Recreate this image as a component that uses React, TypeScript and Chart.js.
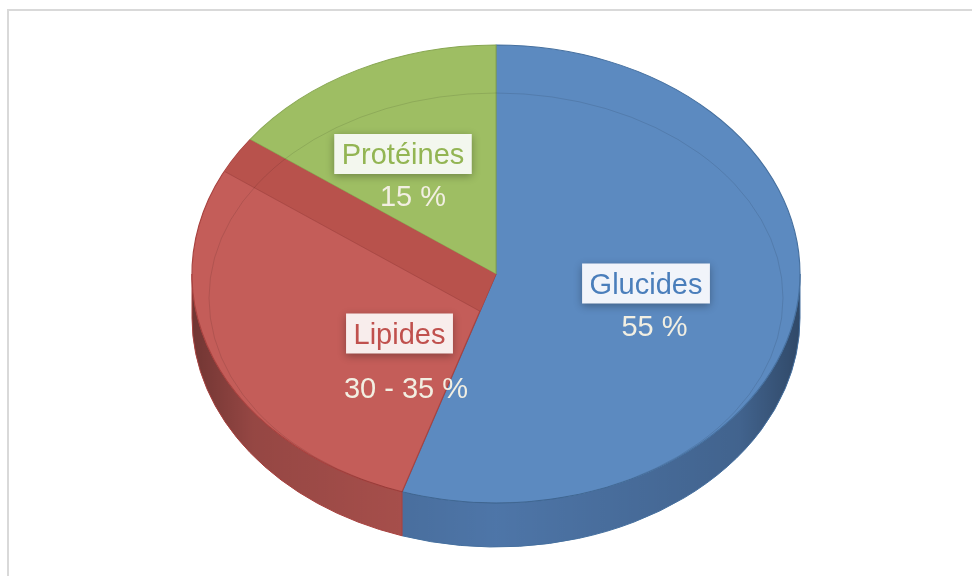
import React, { useEffect, useRef } from "react";
import { Chart, registerables } from "chart.js";

Chart.register(...registerables);

// Macronutrient shares of daily energy intake
const categories = ["Glucides", "Lipides", "Protéines"];
const shares = [55, 30, 15];
const shareLabels = ["55 %", "30 - 35 %", "15 %"];

// Styling
const faceColors = ["#5c8ac0", "#c45d59", "#9ebe63"];
const edgeColors = ["#46709f", "#a8423f", "#88a752"];
const wallColors = ["#5079ad", "#b65652", "#8fae56"];
const labelColors = ["#4a7ebb", "#c0504d", "#93b553"];
const labelBoxColors = ["#f1f4fa", "#f8edec", "#f3f7ee"];
const valueColor = "#f2efe2";
const bandColor = "#b8524c";

// Tilted-disc geometry (pixels)
const PIE_RX = 304;
const PIE_RY = 229;
const PIE_DEPTH = 44;
const FONT = '29px "Liberation Sans", Arial, sans-serif';
// Label anchors relative to the disc centre: [name dx, name dy, value dx, value dy]
const LABEL_OFFSETS = [
  [150, 9.5, 158.5, 52],
  [-96.5, 59.5, -90, 114],
  [-93, -120, -83, -78],
];

const pie3d = {
  id: "pie3d",
  beforeDatasetsDraw(chart: any) {
    const arcs = chart.getDatasetMeta(0).data as any[];
    if (!arcs.length) return;
    const ctx: CanvasRenderingContext2D = chart.ctx;
    const { x: cx, y: cy, outerRadius } = arcs[0].getProps(["x", "y", "outerRadius"], true);

    // darkening toward the left/right ends of the side wall
    const shade = ctx.createLinearGradient(cx - PIE_RX, 0, cx + PIE_RX, 0);
    shade.addColorStop(0, "rgba(0,0,0,0.38)");
    shade.addColorStop(0.1, "rgba(0,0,0,0.18)");
    shade.addColorStop(0.5, "rgba(0,0,0,0.03)");
    shade.addColorStop(0.9, "rgba(0,0,0,0.18)");
    shade.addColorStop(1, "rgba(0,0,0,0.4)");

    arcs.forEach((arc, i) => {
      const { startAngle, endAngle } = arc.getProps(["startAngle", "endAngle"], true);
      for (const k of [-2 * Math.PI, 0, 2 * Math.PI]) {
        const lo = Math.max(startAngle, k);
        const hi = Math.min(endAngle, Math.PI + k);
        if (hi <= lo) continue;
        ctx.save();
        ctx.beginPath();
        ctx.ellipse(cx, cy, PIE_RX, PIE_RY, 0, lo, hi);
        ctx.ellipse(cx, cy + PIE_DEPTH, PIE_RX, PIE_RY, 0, hi, lo, true);
        ctx.closePath();
        ctx.fillStyle = wallColors[i];
        ctx.fill();
        ctx.fillStyle = shade;
        ctx.fill();
        ctx.strokeStyle = edgeColors[i];
        ctx.lineWidth = 1;
        ctx.stroke();
        ctx.restore();
      }
    });

    // squash the library's circular arcs into the tilted ellipse
    ctx.save();
    ctx.translate(cx, cy);
    ctx.scale(PIE_RX / outerRadius, PIE_RY / outerRadius);
    ctx.translate(-cx, -cy);
  },
  afterDatasetsDraw(chart: any) {
    const arcs = chart.getDatasetMeta(0).data as any[];
    if (!arcs.length) return;
    const ctx: CanvasRenderingContext2D = chart.ctx;
    ctx.restore();
    const { x: cx, y: cy } = arcs[0].getProps(["x", "y"], true);

    // radial face of the Lipides slice along its border with Protéines
    const red = arcs[1].getProps(["startAngle", "endAngle"], true);
    const th = red.endAngle;
    const ex = cx + PIE_RX * 1.3 * Math.cos(th);
    const ey = cy + PIE_RY * 1.3 * Math.sin(th);
    const band = PIE_DEPTH + 2;
    ctx.save();
    ctx.beginPath();
    ctx.moveTo(cx, cy);
    ctx.ellipse(cx, cy, PIE_RX - 0.5, PIE_RY - 0.5, 0, red.startAngle, red.endAngle);
    ctx.closePath();
    ctx.clip();
    ctx.beginPath();
    ctx.moveTo(cx, cy);
    ctx.lineTo(ex, ey);
    ctx.lineTo(ex, ey + band);
    ctx.lineTo(cx, cy + band);
    ctx.closePath();
    ctx.fillStyle = bandColor;
    ctx.fill();
    ctx.beginPath();
    ctx.moveTo(cx, cy + band);
    ctx.lineTo(ex, ey + band);
    ctx.strokeStyle = "rgba(150,60,58,0.5)";
    ctx.lineWidth = 1;
    ctx.stroke();
    ctx.restore();

    // bevel rim line on the top face
    ctx.save();
    ctx.beginPath();
    ctx.ellipse(cx, cy + 24, PIE_RX - 17, PIE_RY - 24, 0, 0, Math.PI * 2);
    ctx.strokeStyle = "rgba(0,0,0,0.1)";
    ctx.lineWidth = 1;
    ctx.stroke();
    ctx.restore();
  },
  afterDraw(chart: any) {
    const arcs = chart.getDatasetMeta(0).data as any[];
    if (!arcs.length) return;
    const ctx: CanvasRenderingContext2D = chart.ctx;
    const { x: cx, y: cy } = arcs[0].getProps(["x", "y"], true);
    ctx.save();
    ctx.font = FONT;
    ctx.textAlign = "center";
    ctx.textBaseline = "alphabetic";
    categories.forEach((name, i) => {
      const [nx, ny, vx, vy] = LABEL_OFFSETS[i];
      const tx = cx + nx;
      const ty = cy + ny;
      const w = ctx.measureText(name).width + 15;
      const h = 40;
      ctx.save();
      ctx.shadowColor = "rgba(0,0,0,0.3)";
      ctx.shadowBlur = 8;
      ctx.shadowOffsetY = 2;
      ctx.fillStyle = labelBoxColors[i];
      ctx.fillRect(tx - w / 2, ty - h / 2, w, h);
      ctx.restore();
      ctx.fillStyle = labelColors[i];
      ctx.fillText(name, tx, ty + 10);
      ctx.fillStyle = valueColor;
      ctx.fillText(shareLabels[i], cx + vx, cy + vy + 10);
    });
    ctx.restore();
  },
};

export default function App() {
  const canvasRef = useRef<HTMLCanvasElement | null>(null);

  useEffect(() => {
    if (!canvasRef.current) return;
    const chart = new Chart(canvasRef.current, {
      type: "pie",
      data: {
        labels: categories,
        datasets: [
          {
            data: shares,
            backgroundColor: faceColors,
            borderColor: edgeColors,
            borderWidth: 1,
            clip: false,
          } as any,
        ],
      },
      options: {
        responsive: false,
        animation: false,
        events: [],
        layout: { padding: { left: 20, right: 0, top: 0, bottom: 32 } },
        plugins: {
          legend: { display: false },
          tooltip: { enabled: false },
        },
      },
      plugins: [pie3d],
    });
    return () => chart.destroy();
  }, []);

  return (
    <div
      style={{
        position: "fixed",
        left: 7,
        top: 9,
        width: 990,
        height: 600,
        borderTop: "2px solid #d9d9d9",
        borderLeft: "2px solid #d9d9d9",
        background: "#ffffff",
      }}
    >
      <canvas ref={canvasRef} width={954} height={558} style={{ display: "block" }} />
    </div>
  );
}
